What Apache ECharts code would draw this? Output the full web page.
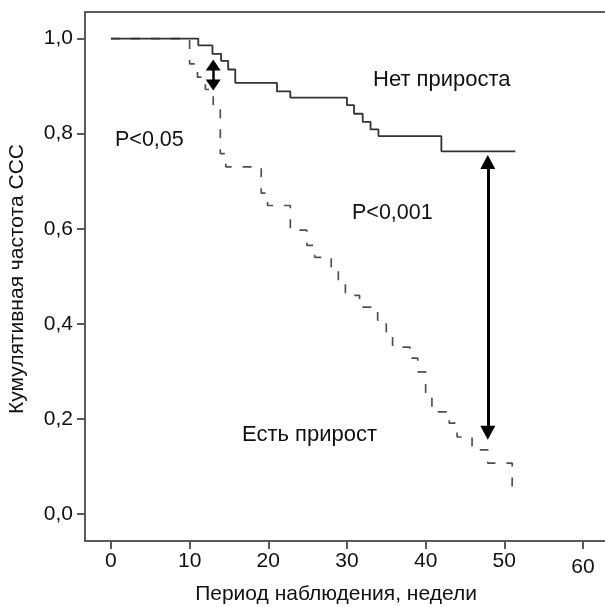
<!DOCTYPE html>
<html>
<head>
<meta charset="utf-8">
<script src="https://cdn.jsdelivr.net/npm/echarts@6/dist/echarts.min.js"></script>
<style>
  html, body { margin: 0; padding: 0; background: #fff; }
  #chart { width: 605px; height: 607px; }
</style>
</head>
<body>
<div id="chart"></div>
<script>
// ---- data ----
const xTicks = [0, 10, 20, 30, 40, 50, 60];
const yTicks = [0, 0.2, 0.4, 0.6, 0.8, 1.0];

// "Нет прироста" (solid)
const noGrowthTimes  = [0, 11.1, 12.9, 14.0, 14.9, 15.8, 21.1, 22.8, 30.0, 30.9, 32.0, 33.0, 34.0, 42.0, 51.4];
const noGrowthValues = [1.0, 0.986, 0.968, 0.953, 0.935, 0.907, 0.889, 0.876, 0.860, 0.842, 0.825, 0.809, 0.795, 0.763, 0.763];

// "Есть прирост" (dashed)
const growthTimes  = [0, 10.0, 11.0, 12.0, 13.0, 13.9, 14.6, 19.1, 19.9, 22.8, 24.9, 25.9, 28.0, 28.9, 29.8, 31.6, 33.9, 35.0, 35.8, 38.0, 39.0, 40.0, 40.8, 43.0, 44.0, 45.9, 47.9, 51.0, 51.4];
const growthValues = [1.0, 0.947, 0.919, 0.893, 0.85, 0.758, 0.730, 0.675, 0.649, 0.597, 0.565, 0.540, 0.513, 0.488, 0.460, 0.435, 0.408, 0.383, 0.351, 0.328, 0.299, 0.250, 0.215, 0.191, 0.162, 0.135, 0.107, 0.057, 0.057];

// double-headed arrows (time, top value, bottom value) - tips
const arrowTimes   = [13.0, 47.9];
const arrowTops    = [0.956, 0.755];
const arrowBottoms = [0.891, 0.156];

const xLabelTitle = 'Период наблюдения, недели';
const yLabelTitle = 'Кумулятивная частота ССС';

// ---- chart ----
const FONT = '"Liberation Sans", Arial, sans-serif';
const AXIS_COLOR = '#5a5a5a';
const chart = echarts.init(document.getElementById('chart'), null, { renderer: 'canvas' });

const pairs = (xs, ys) => xs.map((x, i) => [x, ys[i]]);

const xMin = -3.3, xMax = 62.8, yMin = -0.0568, yMax = 1.056;
const pxPerY = 529 / (yMax - yMin);

const arrowSpecs = [
  { w: 15, h: 11, lw: 2.5 },
  { w: 15, h: 14, lw: 3 }
];
const arrowLines = arrowTimes.map((t, i) => {
  const s = arrowSpecs[i];
  const off = (s.h / 2) / pxPerY;
  return [
    { coord: [t, arrowTops[i] - off], symbol: 'triangle', symbolSize: [s.w, s.h],
      lineStyle: { width: s.lw, color: '#000', type: 'solid' } },
    { coord: [t, arrowBottoms[i] + off], symbol: 'triangle', symbolSize: [s.w, s.h] }
  ];
});

chart.setOption({
  animation: false,
  backgroundColor: '#fff',
  textStyle: { fontFamily: FONT },
  grid: { left: 85, right: 0, top: 12, bottom: 66 },
  xAxis: [{
    type: 'value', min: xMin, max: xMax,
    axisLine: { show: true, onZero: false, lineStyle: { color: AXIS_COLOR, width: 2 } },
    axisTick: { show: true, customValues: xTicks, length: 8, lineStyle: { color: AXIS_COLOR, width: 2 } },
    axisLabel: {
      customValues: xTicks, margin: 10, fontSize: 21, color: '#111', fontFamily: FONT,
      formatter: v => (v === 60 ? '{d|60}' : String(v)),
      rich: { d: { fontSize: 21, color: '#111', fontFamily: FONT, padding: [6, 0, 0, 0] } }
    },
    splitLine: { show: false }
  }, {
    type: 'value', position: 'top', min: xMin, max: xMax,
    axisLine: { show: true, onZero: false, lineStyle: { color: AXIS_COLOR, width: 2 } },
    axisTick: { show: false }, axisLabel: { show: false }, splitLine: { show: false }
  }],
  yAxis: {
    type: 'value', min: yMin, max: yMax,
    axisLine: { show: true, onZero: false, lineStyle: { color: AXIS_COLOR, width: 2 } },
    axisTick: { show: true, customValues: yTicks, length: 8, lineStyle: { color: AXIS_COLOR, width: 2 } },
    axisLabel: {
      customValues: yTicks, margin: 12, fontSize: 21, color: '#111', fontFamily: FONT,
      formatter: v => v.toFixed(1).replace('.', ',')
    },
    splitLine: { show: false }
  },
  series: [
    {
      name: 'Есть прирост', type: 'line', step: 'end', showSymbol: false, symbol: 'none',
      data: pairs(growthTimes, growthValues),
      lineStyle: { color: '#505050', width: 1.7, type: [9, 11] },
      silent: true, z: 2
    },
    {
      name: 'Нет прироста', type: 'line', step: 'end', showSymbol: false, symbol: 'none',
      data: pairs(noGrowthTimes, noGrowthValues),
      lineStyle: { color: '#333', width: 1.8 },
      silent: true, z: 3,
      markLine: {
        silent: true, animation: false,
        label: { show: false },
        emphasis: { disabled: true },
        itemStyle: { color: '#000' },
        lineStyle: { color: '#000', type: 'solid' },
        data: arrowLines
      }
    }
  ],
  graphic: [
    { type: 'text', left: 373, top: 69, style: { text: 'Нет прироста', font: '22px ' + FONT, fill: '#111' } },
    { type: 'text', left: 115, top: 129, style: { text: 'P<0,05', font: '21.5px ' + FONT, fill: '#111' } },
    { type: 'text', left: 352, top: 202, style: { text: 'P<0,001', font: '21.5px ' + FONT, fill: '#111' } },
    { type: 'text', left: 242, top: 424, style: { text: 'Есть прирост', font: '22px ' + FONT, fill: '#111' } },
    { type: 'text', x: 336, y: 594, style: { text: xLabelTitle, font: '21px ' + FONT, fill: '#111', align: 'center', verticalAlign: 'middle' } },
    { type: 'text', x: 17, y: 279, rotation: Math.PI / 2, style: { text: yLabelTitle, font: '21px ' + FONT, fill: '#111', align: 'center', verticalAlign: 'middle' } }
  ]
});
</script>
</body>
</html>
